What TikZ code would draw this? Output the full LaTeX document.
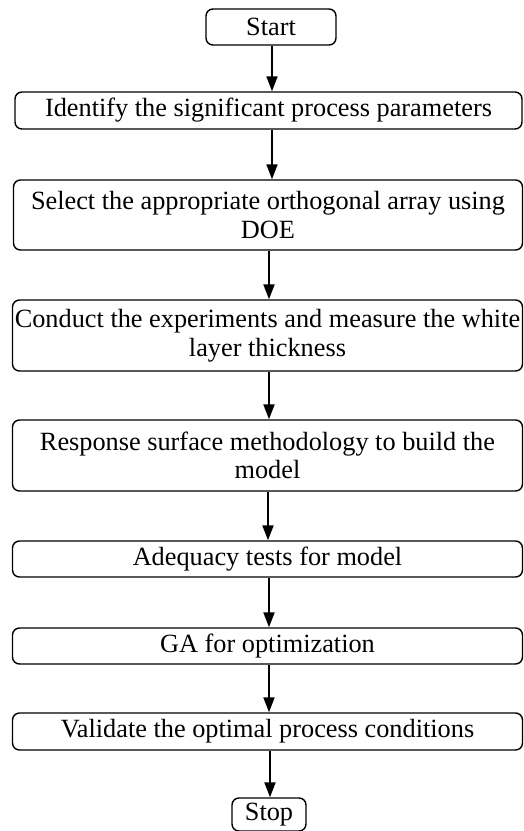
\documentclass[tikz,border=0pt]{standalone}
\usepackage{fontspec}
\setmainfont{Liberation Serif}
\usetikzlibrary{arrows.meta}
\begin{document}
\begin{tikzpicture}[x=1pt,y=-1pt,
  stepbox/.style={draw, line width=1.4pt, rounded corners=7pt, align=center,
    inner sep=0pt, font=\fontsize{26.3}{28.5}\selectfont},
  flow/.style={line width=2pt, -{Triangle[length=15pt,width=11pt]}}]
\useasboundingbox (0,0) rectangle (523,831);
\node[stepbox, minimum width=130pt, minimum height=36pt] (start) at (271,27) {Start};
\node[stepbox, minimum width=507pt, minimum height=37pt] (b1) at (268.5,110.5) {Identify the significant process parameters};
\node[stepbox, minimum width=509pt, minimum height=70pt] (b2) at (268,215) {Select the appropriate orthogonal array using\\DOE};
\node[stepbox, minimum width=510pt, minimum height=71pt] (b3) at (267.5,335.5) {Conduct the experiments and measure the white\\layer thickness};
\node[stepbox, minimum width=510pt, minimum height=71pt] (b4) at (267.5,455.5) {Response surface methodology to build the\\model};
\node[stepbox, minimum width=510pt, minimum height=36pt] (b5) at (267.5,559) {Adequacy tests for model};
\node[stepbox, minimum width=510pt, minimum height=36pt] (b6) at (267.5,646) {GA for optimization};
\node[stepbox, minimum width=510pt, minimum height=37pt] (b7) at (267.5,731.5) {Validate the optimal process conditions};
\node[stepbox, minimum width=74pt, minimum height=33pt] (stop) at (269,814.5) {Stop};
\draw[flow] (start.south -| 272,0) -- (b1.north -| 272,0);
\draw[flow] (b1.south -| 272,0) -- (b2.north -| 272,0);
\draw[flow] (b2.south -| 269,0) -- (b3.north -| 269,0);
\draw[flow] (b3.south -| 269,0) -- (b4.north -| 269,0);
\draw[flow] (b4.south -| 268,0) -- (b5.north -| 268,0);
\draw[flow] (b5.south -| 269,0) -- (b6.north -| 269,0);
\draw[flow] (b6.south -| 269,0) -- (b7.north -| 269,0);
\draw[flow] (b7.south -| 270,0) -- (stop.north -| 270,0);
\end{tikzpicture}
\end{document}
